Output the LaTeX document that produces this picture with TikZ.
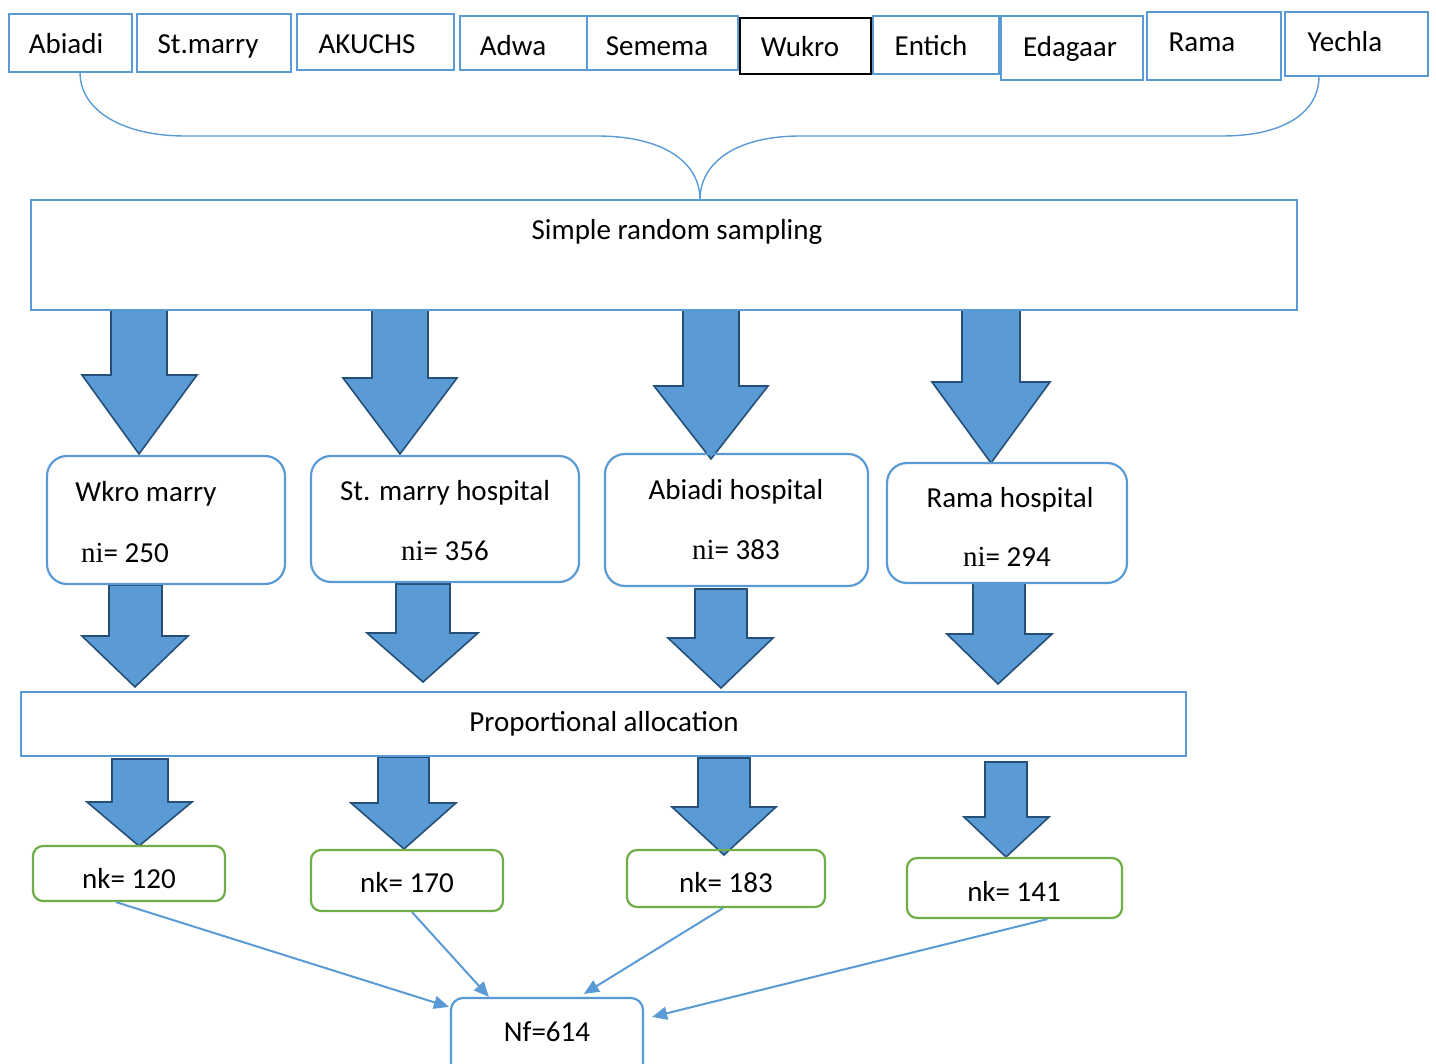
\documentclass[tikz,border=0pt]{standalone}
\usepackage{fontspec}
\setmainfont{Carlito}
\newfontfamily\serifni{Liberation Serif}
\usetikzlibrary{fit,calc,arrows.meta}
\definecolor{boxblue}{HTML}{5B9BD5}
\definecolor{arrline}{HTML}{264F78}
\definecolor{boxgreen}{HTML}{70AD47}
\tikzset{
  topbox/.style={draw=boxblue, line width=1.4pt, inner sep=0pt},
  blackbox/.style={draw=black, line width=1.1pt, inner sep=0pt},
  bigbox/.style={draw=boxblue, line width=1.3pt, inner sep=0pt},
  hospbox/.style={draw=boxblue, line width=1.1pt, rounded corners=10pt, inner sep=0pt},
  nkbox/.style={draw=boxgreen, line width=1.1pt, rounded corners=5pt, inner sep=0pt},
  nfbox/.style={draw=boxblue, line width=1.1pt, rounded corners=6pt, inner sep=0pt},
  txt/.style={font=\fontsize{14.5}{17}\selectfont, anchor=base, inner sep=0pt},
  bigarrow/.style={fill=boxblue, draw=arrline, line width=0.8pt, line join=miter},
  brace/.style={draw=boxblue, line width=0.7pt},
  thinarr/.style={draw=boxblue, line width=1pt, -{Triangle[length=7.5pt,width=6.5pt]}}
}
\newcommand\bigarr[8]{\filldraw[bigarrow] (#1,#3) -- (#1,#4) -- (#5,#4) -- (#7,#8) -- (#6,#4) -- (#2,#4) -- (#2,#3) -- cycle;}
\begin{document}
\begin{tikzpicture}[x=0.5pt,y=-0.5pt]
\fill[white] (0,0) rectangle (1436,1064);
\useasboundingbox (0,0) rectangle (1436,1064);

% top boxes
\node[topbox, fit={(9,14) (132,72)}] (b-abiadi) {};
\node[topbox, fit={(137,14) (291,72)}] (b-stmarry) {};
\node[topbox, fit={(297,14) (454,70)}] (b-akuchs) {};
\node[topbox, fit={(460,16) (587,70)}] (b-adwa) {};
\node[topbox, fit={(587,16) (738,70)}] (b-semema) {};
\node[blackbox, fit={(740,18) (871,74)}] (b-wukro) {};
\node[topbox, fit={(873,16) (999,74)}] (b-entich) {};
\node[topbox, fit={(1001,16) (1143,80)}] (b-edagaar) {};
\node[topbox, fit={(1147,12) (1281,80)}] (b-rama) {};
\node[topbox, fit={(1285,12) (1428,76)}] (b-yechla) {};

\node[txt] (t-abiadi) at (66,54) {Abiadi};
\node[txt] (t-stmarry) at (208,54) {St.marry};
\node[txt] (t-akuchs) at (367,54) {AKUCHS};
\node[txt] (t-adwa) at (513,56) {Adwa};
\node[txt] (t-semema) at (657,56) {Semema};
\node[txt] (t-wukro) at (800,57) {Wukro};
\node[txt] (t-entich) at (931,56) {Entich};
\node[txt] (t-edagaar) at (1070,57) {Edagaar};
\node[txt] (t-rama) at (1202,52) {Rama};
\node[txt] (t-yechla) at (1345,52) {Yechla};

% brace
\coordinate (bl) at (80,72);
\coordinate (br) at (1319,76);
\coordinate (cusp) at (700,200);
\draw[brace] (bl) .. controls (80,112) and (125,136) .. (185,136) -- (597,136)
  .. controls (660,136) and (700,160) .. (cusp)
  .. controls (700,160) and (740,136) .. (800,136) -- (1222,136)
  .. controls (1285,136) and (1319,112) .. (br);

% big arrows row 1
\bigarr{111}{167}{310}{375}{82}{197}{139}{454}
\bigarr{372}{428}{310}{378}{343}{457}{400}{454}
\bigarr{683}{739}{310}{386}{654}{768}{711}{459}
\bigarr{962}{1020}{310}{382}{932}{1050}{991}{463}

% simple random sampling box
\node[bigbox, fit={(31,200) (1297,310)}] (srs) {};
\node[txt] (t-srs) at (677,240) {Simple random sampling};

% big arrows row 2
\bigarr{109}{162}{585}{636}{82}{188}{135}{687}
\bigarr{396}{450}{584}{633}{367}{478}{423}{682}
\bigarr{695}{747}{589}{638}{668}{773}{721}{688}
\bigarr{973}{1025}{583}{634}{947}{1052}{998}{684}

% hospital boxes
\node[hospbox, fit={(47,456) (285,584)}] (h1) {};
\node[hospbox, fit={(311,456) (579,582)}] (h2) {};
\node[hospbox, fit={(605,454) (868,586)}] (h3) {};
\node[hospbox, fit={(887,463) (1127,583)}] (h4) {};
\node[txt] (t-h1) at (146,502) {Wkro marry};
\node[txt] (t-h1n) at (125,562) {{\serifni ni}= 250};
\node[txt] (t-h2) at (445,500) {St. marry hospital};
\node[txt] (t-h2n) at (445,560) {{\serifni ni}= 356};
\node[txt] (t-h3) at (736,499) {Abiadi hospital};
\node[txt] (t-h3n) at (736,559) {{\serifni ni}= 383};
\node[txt] (t-h4) at (1010,507) {Rama hospital};
\node[txt] (t-h4n) at (1007,566) {{\serifni ni}= 294};

% big arrows row 3
\bigarr{112}{168}{759}{802}{87}{192}{139}{846}
\bigarr{378}{429}{757}{803}{351}{456}{404}{849}
\bigarr{698}{750}{758}{807}{672}{776}{724}{855}
\bigarr{985}{1027}{762}{817}{964}{1049}{1006}{857}

% proportional allocation
\node[bigbox, fit={(21,692) (1186,756)}] (pa) {};
\node[txt] (t-pa) at (604,731) {Proportional allocation};

% nk boxes
\node[nkbox, fit={(33,846) (225,901)}] (nk1) {};
\node[nkbox, fit={(311,850) (503,911)}] (nk2) {};
\node[nkbox, fit={(627,850) (825,907)}] (nk3) {};
\node[nkbox, fit={(907,858) (1122,918)}] (nk4) {};
\node[txt] (t-nk1) at (129,888) {nk= 120};
\node[txt] (t-nk2) at (407,892) {nk= 170};
\node[txt] (t-nk3) at (726,892) {nk= 183};
\node[txt] (t-nk4) at (1014,901) {nk= 141};

% final box
\node[nfbox, fit={(451,998) (643,1080)}] (nf) {};
\node[txt] (t-nf) at (547,1041) {Nf=614};

% thin arrows
\draw[thinarr] ($(nk1.south)+(-13,0)$) -- ($(nf.north west)+(-1,10)$);
\draw[thinarr] ($(nk2.south)+(5,0)$) -- ($(nf.north west)+(39,0)$);
\draw[thinarr] ($(nk3.south)+(-3,0)$) -- ($(nf.north west)+(134,-3)$);
\draw[thinarr] ($(nk4.south)+(33,0)$) -- ($(nf.north east)+(8,20)$);
\end{tikzpicture}
\end{document}
